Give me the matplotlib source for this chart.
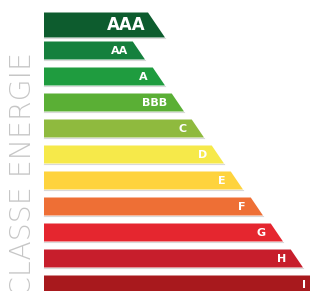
import matplotlib
matplotlib.use('Agg')
import matplotlib.pyplot as plt

# energy classes, top to bottom
CLASSES = ['AAA', 'AA', 'A', 'BBB', 'C', 'D', 'E', 'F', 'G', 'H', 'I']
# bar length (px, measured at the bottom edge of each arrow)
LENGTHS = [121, 101, 121, 140, 160, 180, 199, 219, 239, 259, 279]
COLORS = ['#0d5c2e', '#15803d', '#1f9c3f', '#5aaf35', '#8fba3e', '#f6e94a',
          '#fed33d', '#ee6f35', '#e5262f', '#c71e2c', '#a8191d']

W, H = 310, 291
X0 = 44          # left edge of all bars
SLOPE = 0.68     # dx/dy of the slanted right end

fig = plt.figure(figsize=(W / 100, H / 100), dpi=100)
ax = fig.add_axes([0, 0, 1, 1])
ax.set_xlim(0, W)
ax.set_ylim(H, 0)
ax.axis('off')

for i, (lab, length, c) in enumerate(zip(CLASSES, LENGTHS, COLORS)):
    if i == 0:
        top, bot, fs = 12.5, 37.5, 12
    else:
        top = 41.5 + 26 * (i - 1)
        bot = top + 18
        fs = 8
    xr = X0 + length
    xt = xr - SLOPE * (bot - top)
    ax.fill([X0, xt, xr, X0], [top, top, bot, bot], color=c, lw=0)
    # faint shadow under each arrow
    ax.plot([X0, xr], [bot + 0.6, bot + 0.6], color='#d9d9d9', lw=0.8)
    xm = (xt + xr) / 2
    ax.text(xm - 11, (top + bot) / 2 + 0.5, lab, color='white', fontsize=fs,
            fontweight='bold', ha='right', va='center')

ax.text(23.5, 52, 'CLASSE ENERGIE', rotation=90, rotation_mode='anchor',
        ha='right', va='center', fontsize=20.4, color='#c6c6c6',
        family='DejaVu Sans', fontweight='light')

fig.savefig('out.png', dpi=100)
